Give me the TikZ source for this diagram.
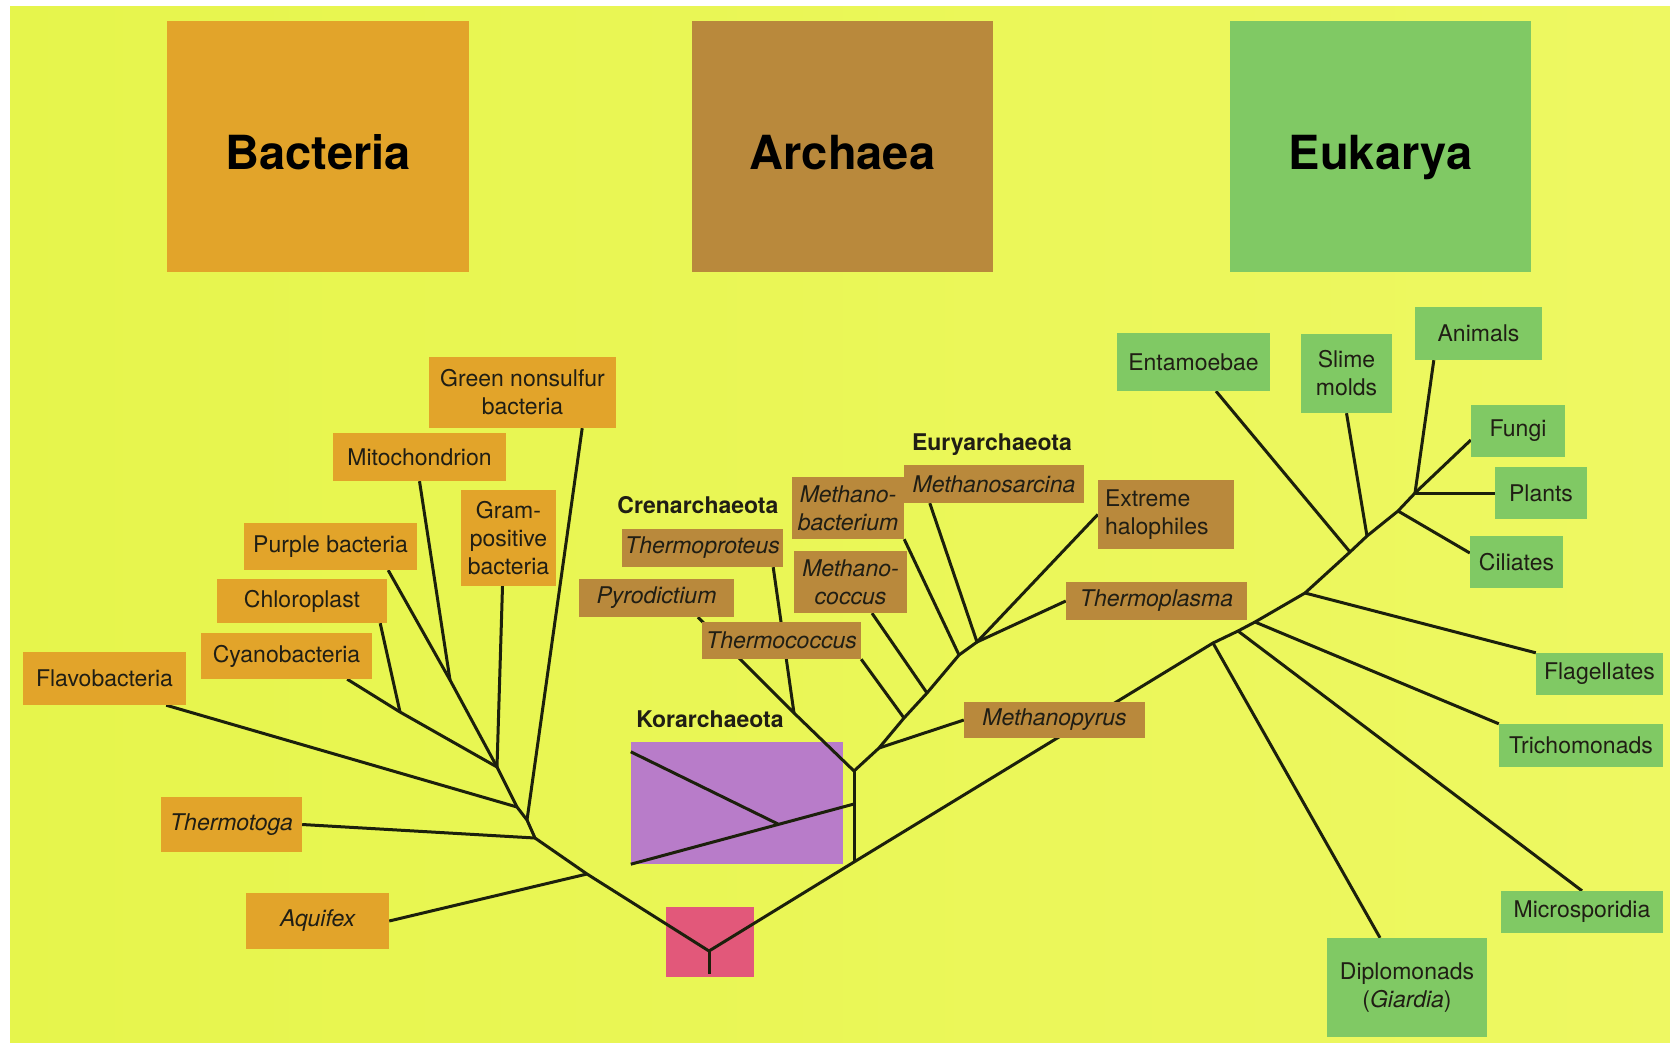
\documentclass[tikz,border=0pt]{standalone}
\usepackage{fontspec}
\setmainfont{TeX Gyre Heros}
\definecolor{bgleft}{RGB}{230,245,76}
\definecolor{bgright}{RGB}{238,248,98}
\definecolor{bactcol}{RGB}{226,164,42}
\definecolor{archcol}{RGB}{185,137,60}
\definecolor{eukcol}{RGB}{128,201,100}
\definecolor{korcol}{RGB}{184,124,201}
\definecolor{rootcol}{RGB}{226,88,122}
\definecolor{linecol}{RGB}{28,32,12}
\definecolor{txtcol}{RGB}{32,30,20}
\pgfdeclarelayer{back}
\pgfdeclarelayer{mid}
\pgfsetlayers{back,mid,main}
\tikzset{
	box/.style={inner sep=0pt, align=center, text=txtcol, font=\fontsize{23}{28}\selectfont},
	sz/.style 2 args={minimum width=#1, minimum height=#2},
	bact/.style={box, fill=bactcol},
	arch/.style={box, fill=archcol},
	euk/.style={box, fill=eukcol},
	head/.style={inner sep=0pt, text height=46pt, text depth=0pt, text=black, font=\fontsize{47}{50}\selectfont\bfseries},
	grp/.style={anchor=base, inner sep=0pt, text=txtcol, font=\fontsize{23}{28}\selectfont\bfseries},
	branch/.style={line width=3pt, draw=linecol, line join=round}
}
\begin{document}
\begin{tikzpicture}[x=1pt, y=-1pt]
	\useasboundingbox (0,0) rectangle (1670,1042);
	\begin{pgfonlayer}{back}
		\fill[white] (0,0) rectangle (1670,1042);
		\shade[left color=bgleft, right color=bgright] (10,6) rectangle (1670,1042);
		\node[fill=korcol, sz={212}{122}] (kor) at (737,803) {};
		\node[fill=rootcol, sz={88}{70}] (root) at (710,942) {};
	\end{pgfonlayer}

	\node[head, fill=bactcol, sz={302}{251}] (bacteria) at (318,146.5) {Bacteria};
	\node[head, fill=archcol, sz={301}{251}] (archaea) at (842.5,146.5) {Archaea};
	\node[head, fill=eukcol, sz={301}{251}] (eukarya) at (1380.5,146.5) {Eukarya};

	\node[bact, sz={187}{71}] (greenns) at (522.5,392.5) {Green nonsulfur\\bacteria};
	\node[bact, sz={173}{48}] (mito) at (419.5,457) {Mitochondrion};
	\node[bact, sz={95}{96}] (grampos) at (508.5,538) {Gram-\\positive\\bacteria};
	\node[bact, sz={173}{47}] (purple) at (330.5,546.5) {Purple bacteria};
	\node[bact, sz={170}{44}] (chloro) at (302,601) {Chloroplast};
	\node[bact, sz={171}{46}] (cyano) at (286.5,656) {Cyanobacteria};
	\node[bact, sz={163}{53}] (flavo) at (104.5,678.5) {Flavobacteria};
	\node[bact, sz={141}{55}] (thermotoga) at (231.5,824.5) {\itshape Thermotoga};
	\node[bact, sz={143}{56}] (aquifex) at (317.5,921) {\itshape Aquifex};

	\node[grp] (cren) at (698,513) {Crenarchaeota};
	\node[grp] (eury) at (992,450) {Euryarchaeota};
	\node[grp] (korlbl) at (710,727) {Korarchaeota};
	\node[arch, sz={161}{38}] (thermoproteus) at (702.5,548) {\itshape Thermoproteus};
	\node[arch, sz={155}{38}] (pyrodictium) at (656.5,598) {\itshape Pyrodictium};
	\node[arch, sz={159}{37}] (thermococcus) at (781.5,640.5) {\itshape Thermococcus};
	\node[arch, sz={112}{62}] (methanobact) at (848,508) {\itshape Methano-\\\itshape bacterium};
	\node[arch, sz={113}{62}] (methanococcus) at (850.5,582) {\itshape Methano-\\\itshape coccus};
	\node[arch, sz={180}{38}] (methanosarcina) at (994,484) {\itshape Methanosarcina};
	\node[arch, sz={136}{69}, text width=122, align=left] (halophiles) at (1166,514.5) {Extreme\\halophiles};
	\node[arch, sz={181}{38}] (thermoplasma) at (1156.5,601) {\itshape Thermoplasma};
	\node[arch, sz={181}{36}] (methanopyrus) at (1054.5,720) {\itshape Methanopyrus};

	\node[euk, sz={153}{58}] (entamoebae) at (1193.5,362) {Entamoebae};
	\node[euk, sz={91}{79}] (slime) at (1346.5,373.5) {Slime\\molds};
	\node[euk, sz={127}{53}] (animals) at (1478.5,333.5) {Animals};
	\node[euk, sz={94}{52}] (fungi) at (1518,431) {Fungi};
	\node[euk, sz={92}{52}] (plants) at (1541,493) {Plants};
	\node[euk, sz={93}{52}] (ciliates) at (1516.5,562) {Ciliates};
	\node[euk, sz={127}{42}] (flagellates) at (1599.5,674) {Flagellates};
	\node[euk, sz={164}{43}] (tricho) at (1581,745.5) {Trichomonads};
	\node[euk, sz={162}{42}] (micro) at (1582,912) {Microsporidia};
	\node[euk, sz={160}{99}] (diplo) at (1407,987.5) {Diplomonads\\(\textit{Giardia})};

	\coordinate (jb1) at (400,712);
	\coordinate (jb2) at (450,680);
	\coordinate (jb3) at (497,767);
	\coordinate (jb4) at (517,807);
	\coordinate (jb5) at (527,820);
	\coordinate (jb6) at (535,838);
	\coordinate (jb7) at (587,874);
	\coordinate (jr) at (709,951);
	\coordinate (jrs) at (709,974);
	\coordinate (ja0) at (854,862);
	\coordinate (ja1) at (854,771);
	\coordinate (jkor) at (854,804);
	\coordinate (jkor2) at (778,824);
	\coordinate (jc) at (794,713);
	\coordinate (je1) at (879,748);
	\coordinate (je2) at (904,718);
	\coordinate (je3) at (927,693);
	\coordinate (je4) at (959,655);
	\coordinate (je5) at (977,642);
	\coordinate (jk1) at (1213,643);
	\coordinate (jk2) at (1238,631);
	\coordinate (jk3) at (1255,622);
	\coordinate (jk4) at (1305,593);
	\coordinate (jk5) at (1350,552);
	\coordinate (jk6) at (1367,536);
	\coordinate (jk7) at (1398,511);
	\coordinate (jk8) at (1415,493);

	\begin{pgfonlayer}{mid}
		\draw[branch] ([xshift=-25]cyano.south east) -- (jb1) -- (jb3);
		\draw[branch] ([xshift=-7]chloro.south east) -- (jb1);
		\draw[branch] ([xshift=-29]purple.south east) -- (jb2) -- (jb3);
		\draw[branch] (mito.south) -- (jb2);
		\draw[branch] ([xshift=-6]grampos.south) -- (jb3);
		\draw[branch] ([xshift=-20]flavo.south east) -- (jb4);
		\draw[branch] ([xshift=-34]greenns.south east) -- (jb5);
		\draw[branch] (thermotoga.east) -- (jb6);
		\draw[branch] (aquifex.east) -- (jb7);
		\draw[branch] (jb3) -- (jb4) -- (jb5) -- (jb6) -- (jb7) -- (jr) -- (ja0) -- (jk1) -- (jk2) -- (jk3)
			-- (jk4) -- (jk5) -- (jk6) -- (jk7) -- (jk8) -- ([yshift=-9]fungi.west);
		\draw[branch] (jr) -- (jrs);

		\draw[branch] (ja0) -- (ja1);
		\draw[branch] (jkor) -- (kor.south west);
		\draw[branch] (jkor2) -- ([yshift=-10]kor.north west);
		\draw[branch] (ja1) -- (jc);
		\draw[branch] ([xshift=-10]thermoproteus.south east) -- (jc) -- ([xshift=41.5]pyrodictium.south);
		\draw[branch] (ja1) -- (je1) -- (je2) -- (je3) -- (je4) -- (je5);
		\draw[branch] (methanopyrus.west) -- (je1);
		\draw[branch] (thermococcus.south east) -- (je2);
		\draw[branch] ([xshift=21.5]methanococcus.south) -- (je3);
		\draw[branch] (methanobact.south east) -- (je4);
		\draw[branch] ([xshift=26]methanosarcina.south west) -- (je5) -- (halophiles.west);
		\draw[branch] (thermoplasma.west) -- (je5);

		\draw[branch] (jk1) -- ([xshift=-27]diplo.north);
		\draw[branch] (jk2) -- (micro.north);
		\draw[branch] (jk3) -- (tricho.north west);
		\draw[branch] (jk4) -- (flagellates.north west);
		\draw[branch] (jk5) -- ([xshift=22.5]entamoebae.south);
		\draw[branch] (jk6) -- (slime.south);
		\draw[branch] (jk7) -- ([yshift=9]ciliates.west);
		\draw[branch] (jk8) -- ([xshift=19]animals.south west);
		\draw[branch] (jk8) -- (plants.west);
	\end{pgfonlayer}
\end{tikzpicture}
\end{document}
